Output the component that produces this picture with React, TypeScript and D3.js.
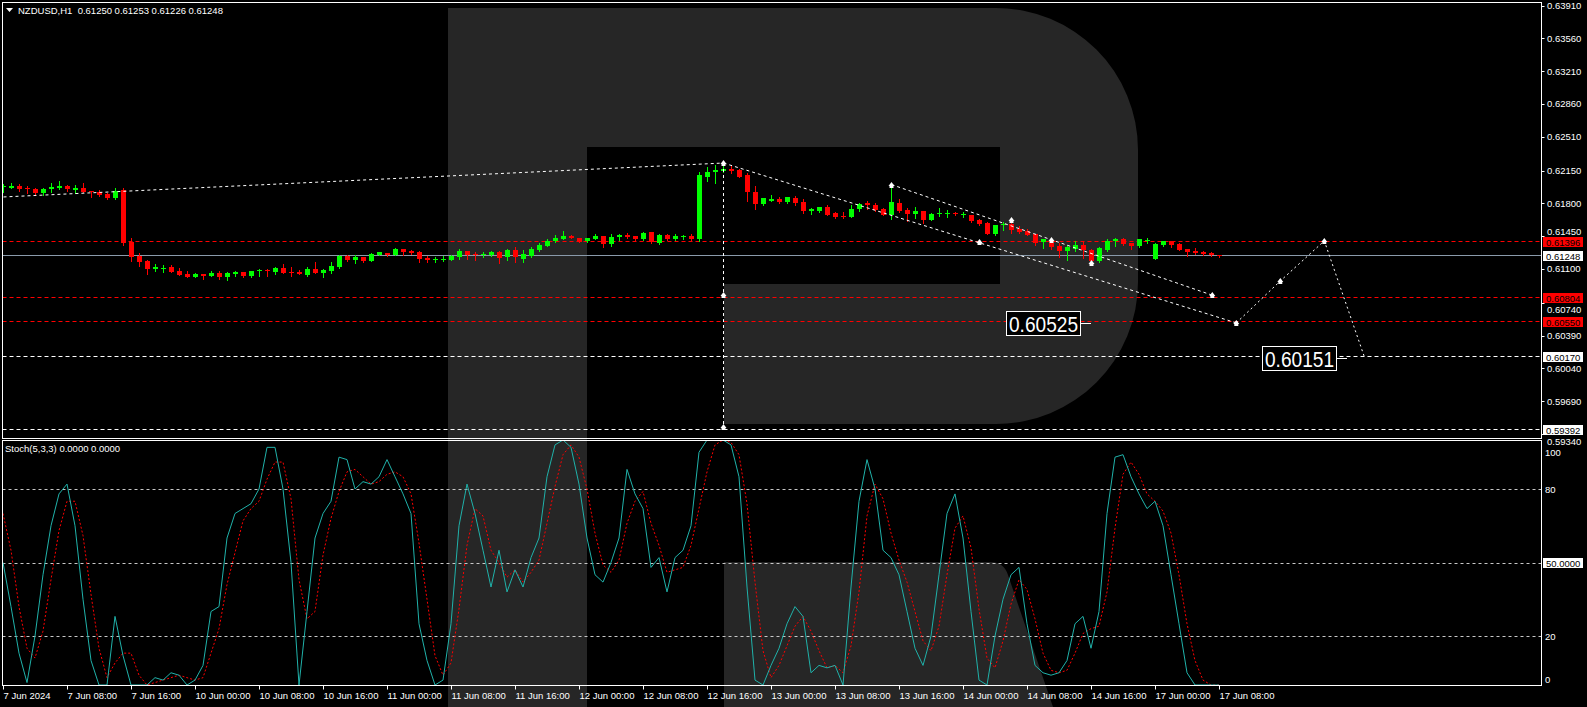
import * as d3 from 'd3'

// NZDUSD H1, 7 Jun 2024 00:00 .. 17 Jun 2024 08:00 (153 bars)
const OPEN = [
  0.61971, 0.61967, 0.61989, 0.61967, 0.61953, 0.61914, 0.61949, 0.61967, 0.61989, 0.61942,
  0.61964, 0.61932, 0.61921, 0.61903, 0.61861, 0.61942, 0.61391, 0.61242, 0.61185, 0.61100,
  0.61107, 0.61118, 0.61075, 0.61046, 0.61018, 0.61043, 0.61029, 0.61057, 0.61011, 0.61046,
  0.61068, 0.61025, 0.61078, 0.61086, 0.61068, 0.61110, 0.61071, 0.61071, 0.61039, 0.61100,
  0.61061, 0.61082, 0.61121, 0.61238, 0.61196, 0.61224, 0.61189, 0.61249, 0.61267, 0.61249,
  0.61313, 0.61295, 0.61281, 0.61221, 0.61199, 0.61203, 0.61196, 0.61231, 0.61292, 0.61263,
  0.61249, 0.61246, 0.61281, 0.61224, 0.61302, 0.61206, 0.61242, 0.61302, 0.61345, 0.61398,
  0.61423, 0.61452, 0.61430, 0.61395, 0.61420, 0.61452, 0.61366, 0.61441, 0.61462, 0.61452,
  0.61420, 0.61494, 0.61377, 0.61462, 0.61420, 0.61441, 0.61452, 0.61420, 0.62081, 0.62138,
  0.62145, 0.62166, 0.62156, 0.62102, 0.61921, 0.61793, 0.61829, 0.61846, 0.61814, 0.61857,
  0.61814, 0.61722, 0.61718, 0.61761, 0.61693, 0.61661, 0.61654, 0.61740, 0.61800, 0.61782,
  0.61740, 0.61676, 0.61804, 0.61729, 0.61686, 0.61718, 0.61622, 0.61686, 0.61686, 0.61697,
  0.61676, 0.61676, 0.61622, 0.61590, 0.61473, 0.61569, 0.61580, 0.61526, 0.61505, 0.61473,
  0.61388, 0.61377, 0.61345, 0.61292, 0.61313, 0.61356, 0.61302, 0.61185, 0.61302, 0.61398,
  0.61420, 0.61377, 0.61345, 0.61406, 0.61206, 0.61356, 0.61398, 0.61366, 0.61313, 0.61292,
  0.61281, 0.61270, 0.61250,
]
const HIGH = [
  0.62006, 0.62013, 0.62006, 0.61985, 0.61960, 0.61964, 0.62013, 0.62038, 0.61996, 0.61999,
  0.62017, 0.61935, 0.61939, 0.61907, 0.61964, 0.61960, 0.61430, 0.61267, 0.61196, 0.61153,
  0.61146, 0.61139, 0.61110, 0.61075, 0.61054, 0.61046, 0.61078, 0.61078, 0.61068, 0.61078,
  0.61071, 0.61082, 0.61096, 0.61103, 0.61121, 0.61153, 0.61118, 0.61089, 0.61118, 0.61174,
  0.61103, 0.61174, 0.61249, 0.61245, 0.61245, 0.61231, 0.61270, 0.61285, 0.61270, 0.61320,
  0.61317, 0.61302, 0.61292, 0.61238, 0.61231, 0.61238, 0.61246, 0.61313, 0.61295, 0.61281,
  0.61281, 0.61292, 0.61292, 0.61310, 0.61334, 0.61302, 0.61334, 0.61374, 0.61420, 0.61462,
  0.61505, 0.61462, 0.61434, 0.61434, 0.61473, 0.61455, 0.61473, 0.61473, 0.61484, 0.61455,
  0.61494, 0.61498, 0.61473, 0.61473, 0.61473, 0.61462, 0.61473, 0.62131, 0.62184, 0.62209,
  0.62230, 0.62209, 0.62166, 0.62124, 0.61985, 0.61861, 0.61889, 0.61868, 0.61871, 0.61878,
  0.61843, 0.61750, 0.61765, 0.61782, 0.61708, 0.61708, 0.61782, 0.61800, 0.61825, 0.61804,
  0.61750, 0.61996, 0.61846, 0.61750, 0.61761, 0.61722, 0.61697, 0.61750, 0.61729, 0.61708,
  0.61708, 0.61679, 0.61633, 0.61601, 0.61573, 0.61601, 0.61622, 0.61558, 0.61526, 0.61477,
  0.61423, 0.61388, 0.61377, 0.61356, 0.61398, 0.61398, 0.61313, 0.61334, 0.61420, 0.61430,
  0.61430, 0.61381, 0.61423, 0.61430, 0.61377, 0.61402, 0.61402, 0.61377, 0.61317, 0.61324,
  0.61292, 0.61281, 0.61253,
]
const LOW = [
  0.61921, 0.61964, 0.61935, 0.61914, 0.61893, 0.61885, 0.61921, 0.61957, 0.61928, 0.61914,
  0.61917, 0.61871, 0.61882, 0.61846, 0.61850, 0.61359, 0.61189, 0.61132, 0.61047, 0.61082,
  0.61071, 0.61068, 0.61032, 0.61011, 0.61011, 0.60993, 0.61025, 0.60993, 0.60982, 0.61029,
  0.61011, 0.61018, 0.61025, 0.61025, 0.61050, 0.61057, 0.61025, 0.61043, 0.61029, 0.61057,
  0.61018, 0.61061, 0.61114, 0.61189, 0.61167, 0.61174, 0.61185, 0.61245, 0.61242, 0.61245,
  0.61246, 0.61260, 0.61174, 0.61174, 0.61174, 0.61185, 0.61192, 0.61210, 0.61206, 0.61196,
  0.61231, 0.61238, 0.61167, 0.61196, 0.61178, 0.61178, 0.61228, 0.61295, 0.61342, 0.61391,
  0.61420, 0.61427, 0.61384, 0.61388, 0.61416, 0.61334, 0.61345, 0.61409, 0.61430, 0.61409,
  0.61409, 0.61377, 0.61366, 0.61409, 0.61409, 0.61420, 0.61409, 0.61398, 0.62038, 0.62017,
  0.62134, 0.62124, 0.62077, 0.61825, 0.61740, 0.61782, 0.61821, 0.61804, 0.61804, 0.61782,
  0.61693, 0.61686, 0.61708, 0.61672, 0.61647, 0.61644, 0.61651, 0.61718, 0.61740, 0.61718,
  0.61672, 0.61633, 0.61708, 0.61612, 0.61644, 0.61590, 0.61619, 0.61665, 0.61654, 0.61676,
  0.61654, 0.61605, 0.61569, 0.61470, 0.61462, 0.61516, 0.61484, 0.61484, 0.61459, 0.61356,
  0.61324, 0.61313, 0.61228, 0.61196, 0.61292, 0.61217, 0.61165, 0.61170, 0.61292, 0.61345,
  0.61356, 0.61313, 0.61334, 0.61377, 0.61203, 0.61345, 0.61334, 0.61299, 0.61238, 0.61260,
  0.61249, 0.61235, 0.61226,
]
const CLOSE = [
  0.61985, 0.61989, 0.61957, 0.61949, 0.61914, 0.61953, 0.61978, 0.61989, 0.61949, 0.61967,
  0.61921, 0.61917, 0.61889, 0.61861, 0.61932, 0.61381, 0.61231, 0.61178, 0.61100, 0.61121,
  0.61114, 0.61071, 0.61036, 0.61018, 0.61046, 0.61025, 0.61057, 0.61018, 0.61057, 0.61068,
  0.61025, 0.61075, 0.61086, 0.61078, 0.61110, 0.61061, 0.61064, 0.61050, 0.61100, 0.61061,
  0.61089, 0.61132, 0.61238, 0.61196, 0.61224, 0.61185, 0.61256, 0.61281, 0.61249, 0.61310,
  0.61285, 0.61274, 0.61206, 0.61196, 0.61206, 0.61210, 0.61238, 0.61292, 0.61246, 0.61246,
  0.61260, 0.61281, 0.61221, 0.61302, 0.61224, 0.61260, 0.61313, 0.61356, 0.61398, 0.61430,
  0.61452, 0.61434, 0.61388, 0.61430, 0.61452, 0.61366, 0.61441, 0.61462, 0.61441, 0.61420,
  0.61484, 0.61388, 0.61462, 0.61420, 0.61452, 0.61452, 0.61420, 0.62102, 0.62134, 0.62156,
  0.62166, 0.62145, 0.62081, 0.61921, 0.61793, 0.61857, 0.61843, 0.61814, 0.61868, 0.61804,
  0.61718, 0.61736, 0.61761, 0.61676, 0.61654, 0.61654, 0.61740, 0.61793, 0.61779, 0.61729,
  0.61676, 0.61814, 0.61718, 0.61686, 0.61718, 0.61622, 0.61686, 0.61697, 0.61697, 0.61686,
  0.61686, 0.61612, 0.61580, 0.61473, 0.61569, 0.61580, 0.61516, 0.61494, 0.61462, 0.61377,
  0.61420, 0.61334, 0.61292, 0.61334, 0.61356, 0.61302, 0.61185, 0.61324, 0.61398, 0.61420,
  0.61366, 0.61345, 0.61420, 0.61413, 0.61366, 0.61398, 0.61356, 0.61302, 0.61281, 0.61270,
  0.61260, 0.61250, 0.61248,
]

// Stochastic(5,3,3): main (%K) and signal (%D)
const STOCH_K = [
  50, 32, 13, 1, 20, 45, 65, 78, 82, 65,
  35, 10, 0, 0, 28, 12, 0, 0, 0, 3,
  2, 5, 4, 0, 2, 8, 30, 32, 60, 70,
  72, 74, 80, 97, 97, 80, 50, 0, 30, 60,
  70, 75, 93, 92, 80, 83, 82, 85, 92, 85,
  78, 70, 25, 10, 0, 2, 25, 65, 82, 70,
  55, 40, 55, 38, 47, 40, 52, 60, 85, 98,
  100, 97, 82, 60, 45, 42, 50, 60, 88, 78,
  72, 48, 52, 38, 52, 55, 65, 95, 100, 100,
  100, 98, 85, 40, 2, 0, 8, 15, 25, 32,
  28, 5, 8, 7, 8, 0, 40, 75, 92, 80,
  55, 52, 45, 30, 15, 8, 20, 45, 70, 78,
  60, 30, 2, 0, 20, 35, 45, 48, 25, 8,
  5, 4, 5, 10, 25, 28, 15, 30, 70, 93,
  94, 85, 78, 72, 75, 65, 45, 25, 5, 0,
  0, 0, 0,
]
const STOCH_D = [
  70, 55, 32, 15, 11, 22, 43, 63, 75, 75,
  61, 37, 15, 3, 9, 13, 13, 4, 0, 1,
  2, 3, 4, 3, 2, 3, 13, 23, 41, 54,
  67, 72, 75, 84, 91, 91, 76, 43, 27, 30,
  53, 68, 79, 87, 88, 85, 82, 83, 86, 87,
  85, 78, 58, 35, 12, 4, 9, 31, 57, 72,
  69, 55, 50, 44, 47, 42, 46, 51, 66, 81,
  94, 98, 93, 80, 62, 49, 46, 51, 66, 75,
  79, 66, 57, 46, 47, 48, 57, 72, 87, 98,
  100, 99, 94, 74, 42, 14, 3, 8, 16, 24,
  28, 22, 14, 7, 8, 5, 16, 38, 69, 82,
  76, 62, 51, 42, 30, 18, 14, 24, 45, 64,
  69, 56, 31, 11, 7, 18, 33, 43, 39, 27,
  13, 6, 5, 6, 13, 21, 23, 24, 38, 64,
  86, 91, 86, 78, 75, 71, 62, 45, 25, 10,
  2, 0, 0,
]

const TIME_LABELS = [
  '7 Jun 2024', '7 Jun 08:00', '7 Jun 16:00', '10 Jun 00:00', '10 Jun 08:00',
  '10 Jun 16:00', '11 Jun 00:00', '11 Jun 08:00', '11 Jun 16:00', '12 Jun 00:00',
  '12 Jun 08:00', '12 Jun 16:00', '13 Jun 00:00', '13 Jun 08:00', '13 Jun 16:00',
  '14 Jun 00:00', '14 Jun 08:00', '14 Jun 16:00', '17 Jun 00:00', '17 Jun 08:00',
]
const TIME_LABEL_BARS = [0, 8, 16, 24, 32, 40, 48, 56, 64, 72, 80, 88, 96, 104, 112, 120, 128, 136, 144, 152]

const PRICE_TICKS = [
  0.63910, 0.63560, 0.63210, 0.62860, 0.62510, 0.62150, 0.61800,
  0.61450, 0.61100, 0.60740, 0.60390, 0.60040, 0.59690, 0.59340,
]
const STOCH_TICKS = [100, 80, 20, 0]
const STOCH_LEVELS = [80, 50, 20]

const BID = 0.61248
const RED_LEVELS = [0.61396, 0.60804, 0.60550]
const WHITE_LEVELS = [0.60170, 0.59392]

// analyst drawings: [bar, price]
const RISING_LINE: [number, number][] = [[0, 0.61868], [90, 0.62230]]
const VERTICAL_LINE: [number, number][] = [[90, 0.62230], [90, 0.59410]]
const CHANNEL_LOW: [number, number][] = [[90, 0.62230], [154.1, 0.60525]]
const CHANNEL_HIGH: [number, number][] = [[111, 0.62000], [151.1, 0.60820]]
const FORECAST: [number, number][] = [[154.1, 0.60525], [159.6, 0.60972], [165.1, 0.61400], [170.1, 0.60165]]
const MARKERS: [number, number][] = [
  [90, 0.62230], [90, 0.60820], [90, 0.59410], [111, 0.62000], [122, 0.61391],
  [126, 0.61622], [131, 0.61409], [136, 0.61161], [151.1, 0.60822], [154.1, 0.60525],
  [159.6, 0.60972], [165.1, 0.61400],
]
const TARGET_LABELS = ['0.60525', '0.60151']
const TARGET_BARS = [136, 168]
const TARGET_PRICES = [0.60525, 0.60151]

const FONT = "'Liberation Sans', Arial, sans-serif"
const GREEN = '#00ff00'
const RED = '#ff0000'
const WATERMARK = '#262626'

export default function App() {
  const width = 1587
  const height = 707
  const left = 2.5
  const right = 1541.5
  const mainTop = 2.5
  const mainBottom = 438.5
  const subTop = 440.5
  const subBottom = 685.5

  const x = d3.scaleLinear().domain([0, 152]).range([3, 1219])
  const y = d3.scaleLinear().domain([0.5934, 0.6391]).range([434, 5.5])
  const ys = d3.scaleLinear().domain([0, 100]).range([685, 440])

  const stochLine = d3.line<number>().x((_, i) => x(i)).y(d => ys(d))
  const drawLine = d3.line<[number, number]>().x(d => x(d[0]) + 0.5).y(d => y(d[1]))

  const axisText = { fontFamily: FONT, fontSize: 9.5, fill: '#fff' }

  // centre of a boxed price label on the axis
  const boxY = (p: number) => Math.round(y(p)) + 1
  const boxed = [BID, ...RED_LEVELS, ...WHITE_LEVELS]
  // keep plain tick labels clear of the boxed ones (they are half hidden in MT4)
  const tickY = (p: number) => {
    const ty = y(p)
    for (const b of boxed) {
      const by = boxY(b)
      if (Math.abs(by - ty) < 11) return ty < by ? by - 11 : by + 11
    }
    return ty
  }

  return (
    <div style={{ position: 'absolute', left: 0, top: 0, width, height, background: '#000' }}>
      <svg width={width} height={height} style={{ display: 'block' }}>
        <defs>
          <clipPath id="mainClip">
            <rect x={left} y={mainTop} width={right - left} height={mainBottom - mainTop} />
          </clipPath>
          <clipPath id="subClip">
            <rect x={left} y={subTop} width={right - left} height={subBottom - subTop} />
          </clipPath>
        </defs>
        <rect width={width} height={height} fill="#000" />

        {/* watermark logo */}
        <g fill={WATERMARK}>
          <path d="M448,8 L996,8 A142,142 0 0 1 1138,150 L1138,282 A142,142 0 0 1 996,424 L724,424 L724,284 L1000,284 L1000,147 L587,147 L587,707 L448,707 Z" />
          <path d="M724,562 L990,562 Q1004,562 1008,575 L1053,707 L724,707 Z" />
        </g>

        {/* price levels */}
        <g clipPath="url(#mainClip)">
          {RED_LEVELS.map(p => (
            <line key={p} x1={left} x2={right} y1={Math.round(y(p)) + 0.5} y2={Math.round(y(p)) + 0.5}
              stroke={RED} strokeDasharray="4 3" />
          ))}
          {WHITE_LEVELS.map(p => (
            <line key={p} x1={left} x2={right} y1={Math.round(y(p)) + 0.5} y2={Math.round(y(p)) + 0.5}
              stroke="#fff" strokeDasharray="4 3" />
          ))}
          <line x1={left} x2={right} y1={Math.round(y(BID)) + 0.5} y2={Math.round(y(BID)) + 0.5} stroke="#8a9aaa" />

          {/* candles */}
          {OPEN.map((o, i) => {
            const c = CLOSE[i]
            const col = c >= o ? GREEN : RED
            const xi = x(i)
            const yh = Math.round(y(HIGH[i]))
            const yl = Math.round(y(LOW[i]))
            const yo = Math.round(y(o))
            const yc = Math.round(y(c))
            const top = Math.min(yo, yc)
            const bh = Math.max(1, Math.abs(yo - yc))
            return (
              <g key={i} fill={col}>
                <rect x={xi} y={yh} width={1} height={yl - yh + 1} />
                <rect x={xi - 2} y={top} width={5} height={bh} />
              </g>
            )
          })}

          {/* drawings */}
          <g fill="none" stroke="#fff" strokeDasharray="3 3">
            <path d={drawLine(RISING_LINE) ?? ''} />
            <path d={drawLine(VERTICAL_LINE) ?? ''} />
            <path d={drawLine(CHANNEL_LOW) ?? ''} />
            <path d={drawLine(CHANNEL_HIGH) ?? ''} />
            <path d={drawLine(FORECAST) ?? ''} strokeDasharray="2 3" />
          </g>
          {MARKERS.map(([b, p], i) => {
            const mx = x(b) + 0.5
            const my = Math.round(y(p))
            return (
              <path key={i} fill="#fff"
                d={`M${mx - 3},${my + 1} L${mx},${my - 3} L${mx + 3},${my + 1} L${mx + 2},${my + 1} L${mx + 2},${my + 3} L${mx - 2},${my + 3} L${mx - 2},${my + 1} Z`} />
            )
          })}
          {TARGET_LABELS.map((t, i) => {
            const ax = x(TARGET_BARS[i])
            const ay = Math.round(y(TARGET_PRICES[i])) + 0.5
            return (
              <g key={t}>
                <line x1={ax - 10} x2={ax} y1={ay} y2={ay} stroke="#fff" />
                <rect x={ax - 84.5} y={ay - 12} width={74} height={24} fill="#000" stroke="#fff" />
                <text x={ax - 82} y={ay + 8} fill="#fff" fontFamily={FONT} fontSize={22}
                  textLength={69} lengthAdjust="spacingAndGlyphs">{t}</text>
              </g>
            )
          })}
        </g>

        {/* stochastic */}
        <g clipPath="url(#subClip)">
          {STOCH_LEVELS.map(v => (
            <line key={v} x1={left} x2={right} y1={Math.round(ys(v)) + 0.5} y2={Math.round(ys(v)) + 0.5}
              stroke="#c8c8c8" strokeDasharray="3 3" />
          ))}
          <path d={stochLine(STOCH_D) ?? ''} fill="none" stroke={RED} strokeDasharray="2 2" />
          <path d={stochLine(STOCH_K) ?? ''} fill="none" stroke="#20b2aa" />
        </g>

        {/* frames */}
        <g fill="none" stroke="#fff">
          <rect x={left} y={mainTop} width={right - left} height={mainBottom - mainTop} />
          <rect x={left} y={subTop} width={right - left} height={subBottom - subTop} />
        </g>

        {/* price axis */}
        {PRICE_TICKS.map(p => (
          <g key={p}>
            <line x1={right} x2={right + 3} y1={Math.round(y(p)) + 0.5} y2={Math.round(y(p)) + 0.5} stroke="#fff" />
            <text x={1547} y={tickY(p)} dominantBaseline="central" {...axisText}>{p.toFixed(5)}</text>
          </g>
        ))}
        {RED_LEVELS.map(p => (
          <g key={p}>
            <rect x={1543} y={boxY(p) - 5} width={40} height={10} fill={RED} />
            <text x={1546} y={boxY(p)} dominantBaseline="central" {...axisText} fill="#000">{p.toFixed(5)}</text>
          </g>
        ))}
        {[BID, ...WHITE_LEVELS].map(p => (
          <g key={p}>
            <rect x={1543} y={boxY(p) - 5} width={40} height={10} fill="#fff" />
            <text x={1546} y={boxY(p)} dominantBaseline="central" {...axisText} fill="#000">{p.toFixed(5)}</text>
          </g>
        ))}

        {/* stochastic axis */}
        {STOCH_TICKS.map(v => {
          const ty = Math.min(679, Math.max(452, ys(v)))
          return (
            <text key={v} x={1545} y={ty} dominantBaseline="central" {...axisText}>{v}</text>
          )
        })}
        <rect x={1543} y={Math.round(ys(50)) - 5} width={40} height={10} fill="#fff" />
        <text x={1546} y={Math.round(ys(50))} dominantBaseline="central" {...axisText} fill="#000">50.0000</text>

        {/* time axis */}
        {TIME_LABELS.map((t, i) => {
          const tx = x(TIME_LABEL_BARS[i]) + 0.5
          return (
            <g key={t}>
              <line x1={tx} x2={tx} y1={subBottom} y2={subBottom + 4} stroke="#fff" />
              <text x={tx} y={695} dominantBaseline="central" {...axisText}>{t}</text>
            </g>
          )
        })}

        {/* titles */}
        <path d="M6,8 L13,8 L9.5,12 Z" fill="#fff" />
        <text x={18} y={10} dominantBaseline="central" {...axisText} style={{ whiteSpace: 'pre' }}>
          {'NZDUSD,H1  0.61250 0.61253 0.61226 0.61248'}
        </text>
        <text x={5} y={448} dominantBaseline="central" {...axisText}>Stoch(5,3,3) 0.0000 0.0000</text>
      </svg>
    </div>
  )
}
